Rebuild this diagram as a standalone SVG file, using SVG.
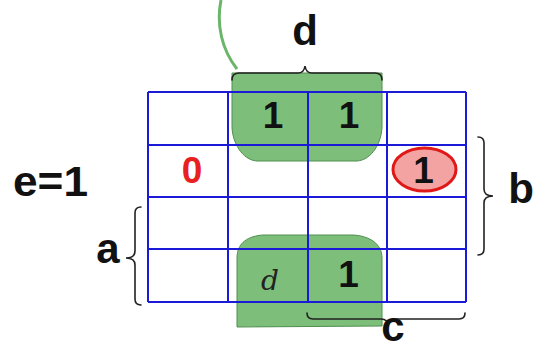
<svg xmlns="http://www.w3.org/2000/svg" width="535" height="350" viewBox="0 0 535 350">
<style>
.grid{stroke:#1a1ad8;stroke-width:2;fill:none}
.grp{fill:#7dbf7a;stroke:#4f8f4f;stroke-width:1}
.brace{fill:none;stroke:#222;stroke-width:1.6;stroke-linecap:round}
.num{font-family:"Liberation Sans",Arial,sans-serif;font-weight:bold;font-size:37px;fill:#111;text-anchor:middle}
.lbl{font-family:"Liberation Sans",Arial,sans-serif;font-weight:bold;font-size:42px;fill:#111;text-anchor:middle}
</style>
<rect width="535" height="350" fill="#fff"/>
<g id="loop-arc"><path d="M221,0 C216,25 222,50 237,69" fill="none" stroke="#6ab56a" stroke-width="3"/></g>
<g id="group-top"><path class="grp" d="M232,73 H382 V126 C382,142 372,160 357,161 H257 C242,160 232,142 232,126 Z"/></g>
<g id="group-bottom"><path class="grp" d="M237,327 V258 C237,242 249,236 263,235 H353 C370,236 382,244 382,258 V326 Z"/></g>
<g id="minterm-ellipse"><ellipse cx="424.5" cy="169.5" rx="31.5" ry="21.5" fill="#f4a3a3" stroke="#e01818" stroke-width="3"/></g>
<g id="grid">
<path class="grid" d="M148,92 H466 M148,145 H466 M148,197 H466 M148,249 H466 M148,302 H466 M148,92 V302 M228,92 V302 M308,92 V302 M387,92 V302 M466,92 V302"/>
</g>
<g id="cells">
<text class="num" x="273" y="128">1</text>
<text class="num" x="349" y="128">1</text>
<text class="num" x="192" y="183" style="fill:#e82020">0</text>
<text class="num" x="423.5" y="183">1</text>
<text class="num" x="348.5" y="287">1</text>
<text x="270" y="290" font-family="'DejaVu Serif',serif" font-style="italic" font-size="28" fill="#222" text-anchor="middle">d</text>
</g>
<g id="braces">
<path class="brace" d="M232,80 Q232,73 239,73 L298,73 Q304,73 305,66 Q306,73 312,73 L375,73 Q382,73 382,80"/>
<path class="brace" d="M478,137 Q484,137 484,143 L484,189 Q484,196 493,196 Q484,196 484,203 L484,249 Q484,255 478,255"/>
<path class="brace" d="M141,207 Q135,207 135,213 L135,251 Q135,258 126,258 Q135,258 135,265 L135,299 Q135,305 141,305"/>
<path class="brace" d="M307,313 Q307,319 313,319 L381,319 Q388,319 388,326 Q388,319 395,319 L459,319 Q465,319 465,313"/>
</g>
<g id="labels">
<text class="lbl" x="50.5" y="196" font-size="40" textLength="75" lengthAdjust="spacingAndGlyphs">e=1</text>
<text class="lbl" x="305" y="45">d</text>
<text class="lbl" x="108" y="263">a</text>
<text class="lbl" x="521" y="203" font-size="40">b</text>
<text class="lbl" x="393" y="341" font-size="34">c</text>
</g>
</svg>
